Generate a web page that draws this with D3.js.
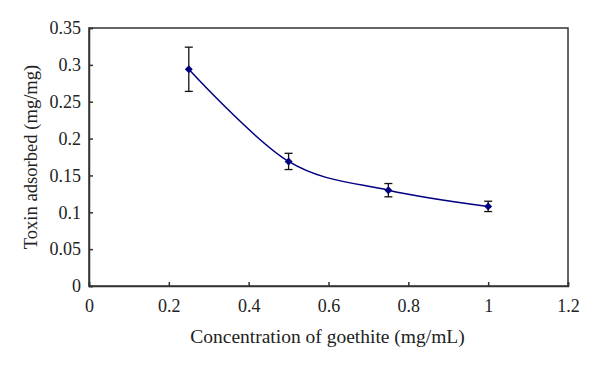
<!DOCTYPE html>
<html><head><meta charset="utf-8">
<script src="https://cdn.jsdelivr.net/npm/d3@7"></script>
<style>body{margin:0;background:#fff}svg{display:block}</style>
</head><body>
<svg id="c" width="600" height="366"></svg>
<script>
const concentration = [0.25, 0.5, 0.75, 1.0];
const adsorbed = [0.294, 0.169, 0.130, 0.108];
const errorVal = [0.030, 0.011, 0.009, 0.007];
const xTicks = [0, 0.2, 0.4, 0.6, 0.8, 1, 1.2];
const yTicks = [0, 0.05, 0.1, 0.15, 0.2, 0.25, 0.3, 0.35];
const xTitle = "Concentration of goethite (mg/mL)";
const yTitle = "Toxin adsorbed (mg/mg)";

const svg = d3.select("#c");
const L = 89, R = 568, T = 28, B = 286;
const x = d3.scaleLinear().domain([0, 1.2]).range([L, R]);
const y = d3.scaleLinear().domain([0, 0.35]).range([B, T]);
const font = "'Liberation Serif', 'Times New Roman', serif";
const navy = "#000080";

// frame
svg.append("rect").attr("x", L).attr("y", T).attr("width", R - L).attr("height", B - T)
  .attr("fill", "none").attr("stroke", "#333").attr("stroke-width", 1.5);

const xa = svg.append("g").attr("transform", `translate(0,${B})`)
  .call(d3.axisBottom(x).tickValues(xTicks).tickSize(-4).tickPadding(13).tickFormat(d => String(d)));
const ya = svg.append("g").attr("transform", `translate(${L},0)`)
  .call(d3.axisLeft(y).tickValues(yTicks).tickSize(-4).tickPadding(8).tickFormat(d => String(d)));
[xa, ya].forEach(g => {
  g.attr("font-family", font).attr("font-size", 18);
  g.select(".domain").attr("stroke", "#333").attr("stroke-width", 1.5);
  g.selectAll(".tick line").attr("stroke", "#333").attr("stroke-width", 1.5);
  g.selectAll("text").attr("font-family", font).attr("font-size", 18).attr("fill", "#222");
});

svg.append("text").attr("x", (L + R) / 2 - 1).attr("y", 343).attr("text-anchor", "middle")
  .attr("font-family", font).attr("font-size", 19.5).attr("fill", "#222").text(xTitle);
svg.append("text").attr("transform", `translate(37,157) rotate(-90)`).attr("text-anchor", "middle")
  .attr("font-family", font).attr("font-size", 18.6).attr("fill", "#222").text(yTitle);

const data = concentration.map((c, i) => ({x: c, y: adsorbed[i], e: errorVal[i]}));

// error bars
const eb = svg.append("g").attr("stroke", "#111").attr("stroke-width", 1.3);
data.forEach(d => {
  eb.append("line").attr("x1", x(d.x)).attr("x2", x(d.x)).attr("y1", y(d.y + d.e)).attr("y2", y(d.y - d.e));
  [d.y + d.e, d.y - d.e].forEach(v => eb.append("line")
    .attr("x1", x(d.x) - 4).attr("x2", x(d.x) + 4).attr("y1", y(v)).attr("y2", y(v)));
});

// smoothed line
svg.append("path").datum(data)
  .attr("d", d3.line().x(d => x(d.x)).y(d => y(d.y)).curve(d3.curveCatmullRom.alpha(0)))
  .attr("fill", "none").attr("stroke", navy).attr("stroke-width", 1.5);

// markers
svg.selectAll(".m").data(data).join("path")
  .attr("transform", d => `translate(${x(d.x)},${y(d.y)})`)
  .attr("d", d3.symbol(d3.symbolDiamond2, 40))
  .attr("fill", navy);
</script>
</body></html>
